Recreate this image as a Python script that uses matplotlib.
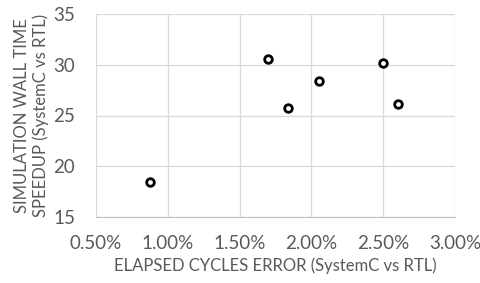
import matplotlib
matplotlib.use("Agg")
import matplotlib.pyplot as plt
from matplotlib.ticker import FuncFormatter

error_pct = [0.876, 1.70, 1.837, 2.053, 2.499, 2.603]
speedup = [18.48, 30.57, 25.74, 28.4, 30.17, 26.13]
x_ticks = [0.5, 1.0, 1.5, 2.0, 2.5, 3.0]
y_ticks = [15, 20, 25, 30, 35]

plt.rcParams['font.family'] = ['Lato', 'DejaVu Sans']
gray = '#595959'

fig = plt.figure(figsize=(4.81, 2.83), dpi=100)
ax = fig.add_axes([96/481, 1-217/283, (455-96)/481, (217-14)/283])
ax.scatter(error_pct, speedup, s=30, facecolors='white', edgecolors='black', linewidths=2, zorder=3)
ax.set_xlim(0.5, 3.0)
ax.set_ylim(15, 35)
ax.set_xticks(x_ticks)
ax.set_yticks(y_ticks)
ax.xaxis.set_major_formatter(FuncFormatter(lambda v, p: f"{v:.2f}%"))
ax.grid(True, color='#d9d9d9', linewidth=0.9)
ax.set_axisbelow(True)
for s in ax.spines.values():
    s.set_visible(False)
ax.spines['bottom'].set_visible(True)
ax.spines['bottom'].set_color('#bfbfbf')
ax.tick_params(length=0, labelsize=13.5, colors=gray)
ax.tick_params(axis='x', pad=13)
ax.tick_params(axis='y', pad=15)
ax.set_xlabel('ELAPSED CYCLES ERROR (SystemC vs RTL)', fontsize=12, color=gray, labelpad=4)
ax.set_ylabel('SIMULATION WALL TIME\nSPEEDUP (SystemC vs RTL)', fontsize=12, color=gray, labelpad=3, linespacing=1.15)
fig.savefig('out.png', dpi=100)
